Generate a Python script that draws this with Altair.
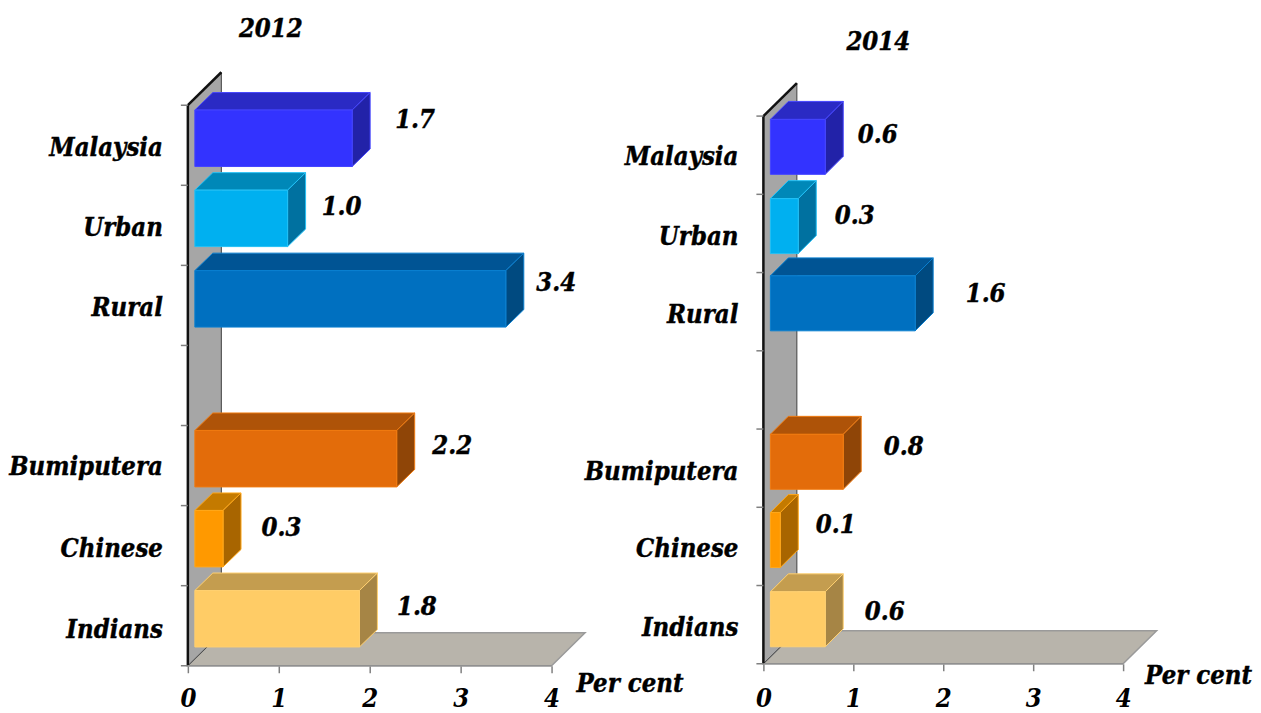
import altair as alt
import pandas as pd

# ---- data ----
categories = ["Malaysia", "Urban", "Rural", "Bumiputera", "Chinese", "Indians"]
slots = [0, 1, 2, 4, 5, 6]          # row from the top; row 3 is the empty gap
labels_2012 = ["1.7", "1.0", "3.4", "2.2", "0.3", "1.8"]
labels_2014 = ["0.6", "0.3", "1.6", "0.8", "0.1", "0.6"]
bars_2012 = [1.73, 1.02, 3.42, 2.22, 0.31, 1.81]
bars_2014 = [0.61, 0.31, 1.61, 0.81, 0.11, 0.61]
ticks_x = [0, 1, 2, 3, 4]
ticks_y = [0, 1, 2, 3, 4, 5, 6, 7]

front = ["#3333ff", "#00b0f0", "#0070c0", "#e36c0a", "#ff9900", "#ffcc66"]
top = ["#2a2ac4", "#0088b8", "#005494", "#ae5308", "#c47a00", "#c49d4f"]
side = ["#2222a8", "#0071a0", "#004a80", "#8f4507", "#a86500", "#a68545"]
edge = ["#4444ff", "#22c0f5", "#0a80d0", "#f07a10", "#ffa81a", "#ffd070"]

FONT = "DejaVu Serif Condensed"
SIZE = 25.5


def panel(title, bars, labels, px_width, ppx, ppy, x_left, height,
          title_pos, gaps, label_up, cat_up, percent_pos, lifts, thick_px, depth_y, label_pad):
    """ppx / ppy: pixels per x unit / per row; x_left: data x at the panel's left edge."""
    xdom = [x_left, x_left + px_width / ppx]
    ydom = [0, height / ppy]
    xaxis = alt.Axis(values=ticks_x, format="d", title=None, grid=False, domain=False,
                     tickColor="#808080", tickSize=7, tickWidth=1.5, labelPadding=label_pad,
                     labelFont=FONT, labelFontSize=SIZE, labelFontWeight="bold",
                     labelFontStyle="italic", labelColor="black", labelFlush=False,
                     labelAngle=0, labelOverlap=False)
    X = lambda f, **k: alt.X(f, type="quantitative", scale=alt.Scale(domain=xdom, nice=False, zero=False), axis=xaxis, **k)
    Y = lambda f, **k: alt.Y(f, type="quantitative", scale=alt.Scale(domain=ydom, nice=False, zero=False), axis=None, stack=None, **k)
    cs = lambda r: alt.Scale(domain=categories, range=r)

    wx, wy = 33.5 / ppx, 33 / ppy        # depth of wall and floor
    bx, by = 18 / ppx, depth_y / ppy     # depth of a bar
    x0 = 7 / ppx                         # bar start
    thick = thick_px / ppy               # bar front height

    rows = []
    for c, s, b, l in zip(categories, slots, bars, lifts):
        y_lo = 7 - s - 1 + l / ppy
        rows.append(dict(cat=c, x0=x0, x1=x0 + b, y0=y_lo, y1=y_lo + thick))
    df = pd.DataFrame(rows)

    top_f = pd.concat([
        df.assign(xa=df.x0, xb=df.x1, y=df.y1),
        df.assign(xa=df.x0 + bx, xb=df.x1 + bx, y=df.y1 + by),
    ])
    side_f = pd.concat([
        df.assign(x=df.x1, ya=df.y0, yb=df.y1),
        df.assign(x=df.x1 + bx, ya=df.y0 + by, yb=df.y1 + by),
    ])

    floor = alt.Chart(pd.DataFrame({"xa": [0, wx], "xb": [4, 4 + wx], "y": [0, wy]})).mark_area(
        orient="horizontal", fill="#b8b4ab", stroke="#9a9a9a", strokeWidth=1.5
    ).encode(x=X("xa:Q"), x2="xb:Q", y=Y("y:Q"))

    wall = alt.Chart(pd.DataFrame({"x": [0, wx], "ya": [0, wy], "yb": [7, 7 + wy]})).mark_area(
        orient="vertical", fill="#a6a6a6"
    ).encode(x=X("x:Q"), y=Y("ya:Q"), y2="yb:Q")

    lines = pd.DataFrame([
        dict(x=0, x2=wx, y=0, y2=wy, k="thin"),
        dict(x=wx, x2=wx, y=wy, y2=7 + wy, k="thin"),
        dict(x=0, x2=0, y=0, y2=7, k="thick"),
        dict(x=0, x2=wx, y=7, y2=7 + wy, k="thick"),
    ])
    wall_lines = alt.Chart(lines).mark_rule().encode(
        x=X("x:Q"), x2="x2:Q", y=Y("y:Q"), y2="y2:Q",
        color=alt.Color("k:N", scale=alt.Scale(domain=["thin", "thick"], range=["#404040", "#111111"]), legend=None),
        strokeWidth=alt.StrokeWidth("k:N", scale=alt.Scale(domain=["thin", "thick"], range=[1, 2.5]), legend=None),
    )

    ticks = alt.Chart(pd.DataFrame({"y": ticks_y})).transform_calculate(
        a=f"-{7 / ppx}", b="0").mark_rule(color="#808080", strokeWidth=1.5).encode(
        x=X("a:Q"), x2="b:Q", y=Y("y:Q"))
    x_line = alt.Chart(pd.DataFrame({"a": [0], "b": [4], "y": [0]})).mark_rule(
        color="#909090", strokeWidth=1.5).encode(x=X("a:Q"), x2="b:Q", y=Y("y:Q"))

    bar_front = alt.Chart(df).mark_rect(strokeWidth=1).encode(
        x=X("x0:Q"), x2="x1:Q", y=Y("y0:Q"), y2="y1:Q",
        fill=alt.Fill("cat:N", scale=cs(front), legend=None),
        stroke=alt.Stroke("cat:N", scale=cs(edge), legend=None),
    )
    bar_top = alt.Chart(top_f).mark_area(orient="horizontal", strokeWidth=1).encode(
        x=X("xa:Q"), x2="xb:Q", y=Y("y:Q"),
        fill=alt.Fill("cat:N", scale=cs(top), legend=None),
        stroke=alt.Stroke("cat:N", scale=cs(edge), legend=None),
    )
    bar_side = alt.Chart(side_f).mark_area(orient="vertical", strokeWidth=1).encode(
        x=X("x:Q"), y=Y("ya:Q"), y2="yb:Q",
        fill=alt.Fill("cat:N", scale=cs(side), legend=None),
        stroke=alt.Stroke("cat:N", scale=cs(edge), legend=None),
    )

    txt = dict(font=FONT, fontStyle="italic", fontWeight="bold", color="black",
               fontSize=SIZE, stroke="black", strokeWidth=0.4)
    cat_df = pd.DataFrame({
        "cat": categories,
        "x": [-25 / ppx] * 6,
        "y": [7 - s - 0.5 + u / ppy for s, u in zip(slots, cat_up)],
    })
    cat_text = alt.Chart(cat_df).mark_text(align="right", baseline="middle", **txt).encode(
        x=X("x:Q"), y=Y("y:Q"), text="cat:N")

    val_df = pd.DataFrame({
        "lab": labels,
        "x": [x0 + b + g / ppx for b, g in zip(bars, gaps)],
        "y": [7 - s - 0.5 + u / ppy for s, u in zip(slots, label_up)],
    })
    val_text = alt.Chart(val_df).mark_text(align="center", baseline="middle", **txt).encode(
        x=X("x:Q"), y=Y("y:Q"), text="lab:N")

    ttl = alt.Chart(pd.DataFrame({"t": [title], "x": [title_pos[0]], "y": [title_pos[1]]})).mark_text(
        align="center", baseline="middle", **txt).encode(x=X("x:Q"), y=Y("y:Q"), text="t:N")
    pct = alt.Chart(pd.DataFrame({"t": ["Per cent"], "x": [percent_pos[0]], "y": [percent_pos[1]]})).mark_text(
        align="left", baseline="middle", **txt).encode(x=X("x:Q"), y=Y("y:Q"), text="t:N")

    return alt.layer(floor, wall, wall_lines, ticks, x_line, bar_top, bar_side, bar_front,
                     cat_text, val_text, ttl, pct).resolve_scale(
        fill="independent", stroke="independent", color="independent").properties(
        width=px_width, height=height)


p1 = panel("2012", bars_2012, labels_2012, 578, 91, 80.14, (8 - 188) / 91, 658,
           ((271 - 188) / 91, (666 - 29) / 80.14),
           gaps=[63, 54, 50.5, 55.5, 58.5, 57.5],
           label_up=[25, 18, 22, 20, 18, 19],
           cat_up=[-3, -3, -3, -1, -3, -4],
           percent_pos=((577 - 188) / 91, (666 - 684) / 80.14),
           lifts=[18.8, 18.8, 18.4, 18.7, 18.8, 18.8], thick_px=56.5, depth_y=17.5, label_pad=14)
p2 = panel("2014", bars_2014, labels_2014, 667, 90, 78.3, (586 - 764) / 90, 656,
           ((879 - 764) / 90, (664 - 42) / 78.3),
           gaps=[52.5, 56.5, 70.5, 60.5, 55.5, 59.5],
           label_up=[20, 17, 18, 21, 21, 13],
           cat_up=[-2, -4, -3, -4, -3, -3],
           percent_pos=((1146 - 764) / 90, (664 - 676) / 78.3),
           lifts=[20, 19, 20, 18, 18, 17], thick_px=55, depth_y=18, label_pad=16)

chart = alt.hconcat(p1, p2, spacing=0, bounds="flush").properties(padding=0).configure_view(stroke=None)
chart.save("out.html", embed_options={"renderer": "svg", "actions": False})
